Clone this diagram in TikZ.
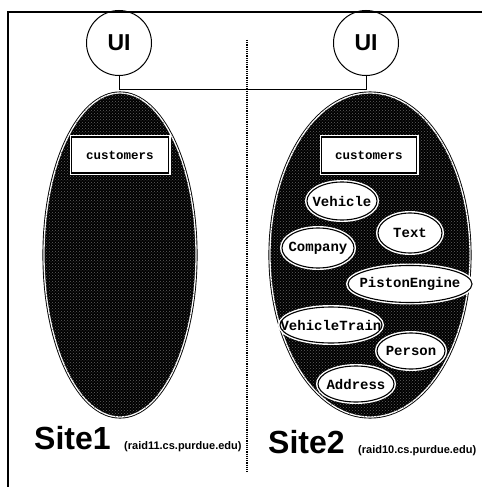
\documentclass[tikz,border=0pt]{standalone}
\usepackage{fontspec}
\setmainfont{Liberation Sans}
\setmonofont{Liberation Mono}
\usetikzlibrary{shapes.geometric,patterns}
\begin{document}
\begin{tikzpicture}[x=1pt,y=-1pt,
  uinode/.style={circle, draw, line width=1pt, minimum size=65pt, inner sep=0pt,
    font=\bfseries\fontsize{23}{23}\selectfont},
  sitenode/.style={ellipse, draw, fill=black, line width=0.9pt, double=white,
    double distance=1.3pt, inner sep=0pt,
    postaction={pattern=crosshatch dots, pattern color=black!62}},
  classbox/.style={rectangle, draw, fill=white, line width=1.1pt, inner sep=0pt,
    preaction={draw=white, line width=4pt},
    font=\ttfamily\bfseries\fontsize{12.5}{12.5}\selectfont},
  classell/.style={ellipse, draw, fill=white, line width=1.1pt, inner sep=0pt,
    preaction={draw=white, line width=4pt}},
  classtext/.style={font=\ttfamily\bfseries\fontsize{14}{14}\selectfont, inner sep=0pt},
  sitelabel/.style={anchor=base west, inner sep=0pt,
    font=\bfseries\fontsize{32}{32}\selectfont},
  hostlabel/.style={anchor=base west, inner sep=0pt,
    font=\bfseries\fontsize{11}{11}\selectfont}
]
\useasboundingbox (0,0) rectangle (482,487);
% frame
\coordinate (fr1) at (482,12);
\coordinate (fr2) at (8,12);
\coordinate (fr3) at (8,487);
\draw[line width=1.6pt] (fr1) -- (fr2) -- (fr3);
% divider
\coordinate (dv1) at (247,40);
\coordinate (dv2) at (247,472);
\draw[densely dotted, line width=1.2pt] (dv1) -- (dv2);
% sites
\node[sitenode, minimum width=152pt, minimum height=324pt] (site1) at (120,255) {};
\node[sitenode, minimum width=200pt, minimum height=324pt] (site2) at (370,255) {};
% UI
\node[uinode] (ui1) at (119,43) {UI};
\node[uinode] (ui2) at (366,43) {UI};
\draw[line width=0.9pt] (ui1.south) -- ++(0,13) -| (ui2.south);
% customers
\node[classbox, minimum width=97pt, minimum height=36pt] (cust1) at (120,155) {customers};
\node[classbox, minimum width=95pt, minimum height=36pt] (cust2) at (369,155) {customers};
% classes
\node[classell, minimum width=70pt, minimum height=38pt,
  label={[classtext]center:Vehicle}] (veh) at (342,201) {};
\node[classell, minimum width=64pt, minimum height=40pt,
  label={[classtext]center:Text}] (txt) at (410,233) {};
\node[classell, minimum width=72pt, minimum height=40pt,
  label={[classtext]center:Company}] (comp) at (318,248) {};
\node[classell, minimum width=124pt, minimum height=37pt,
  label={[classtext]center:PistonEngine}] (pist) at (410,284) {};
\node[classell, minimum width=102pt, minimum height=36pt,
  label={[classtext]center:VehicleTrain}] (vtr) at (331,325) {};
\node[classell, minimum width=68pt, minimum height=36pt,
  label={[classtext]center:Person}] (pers) at (411,351) {};
\node[classell, minimum width=76pt, minimum height=36pt,
  label={[classtext]center:Address}] (addr) at (356,384) {};
% labels
\node[sitelabel] (s1) at (34,449) {Site1};
\node[hostlabel] (h1) at (124,449) {(raid11.cs.purdue.edu)};
\node[sitelabel] (s2) at (268,453) {Site2};
\node[hostlabel] (h2) at (358,453) {(raid10.cs.purdue.edu)};
\end{tikzpicture}
\end{document}
